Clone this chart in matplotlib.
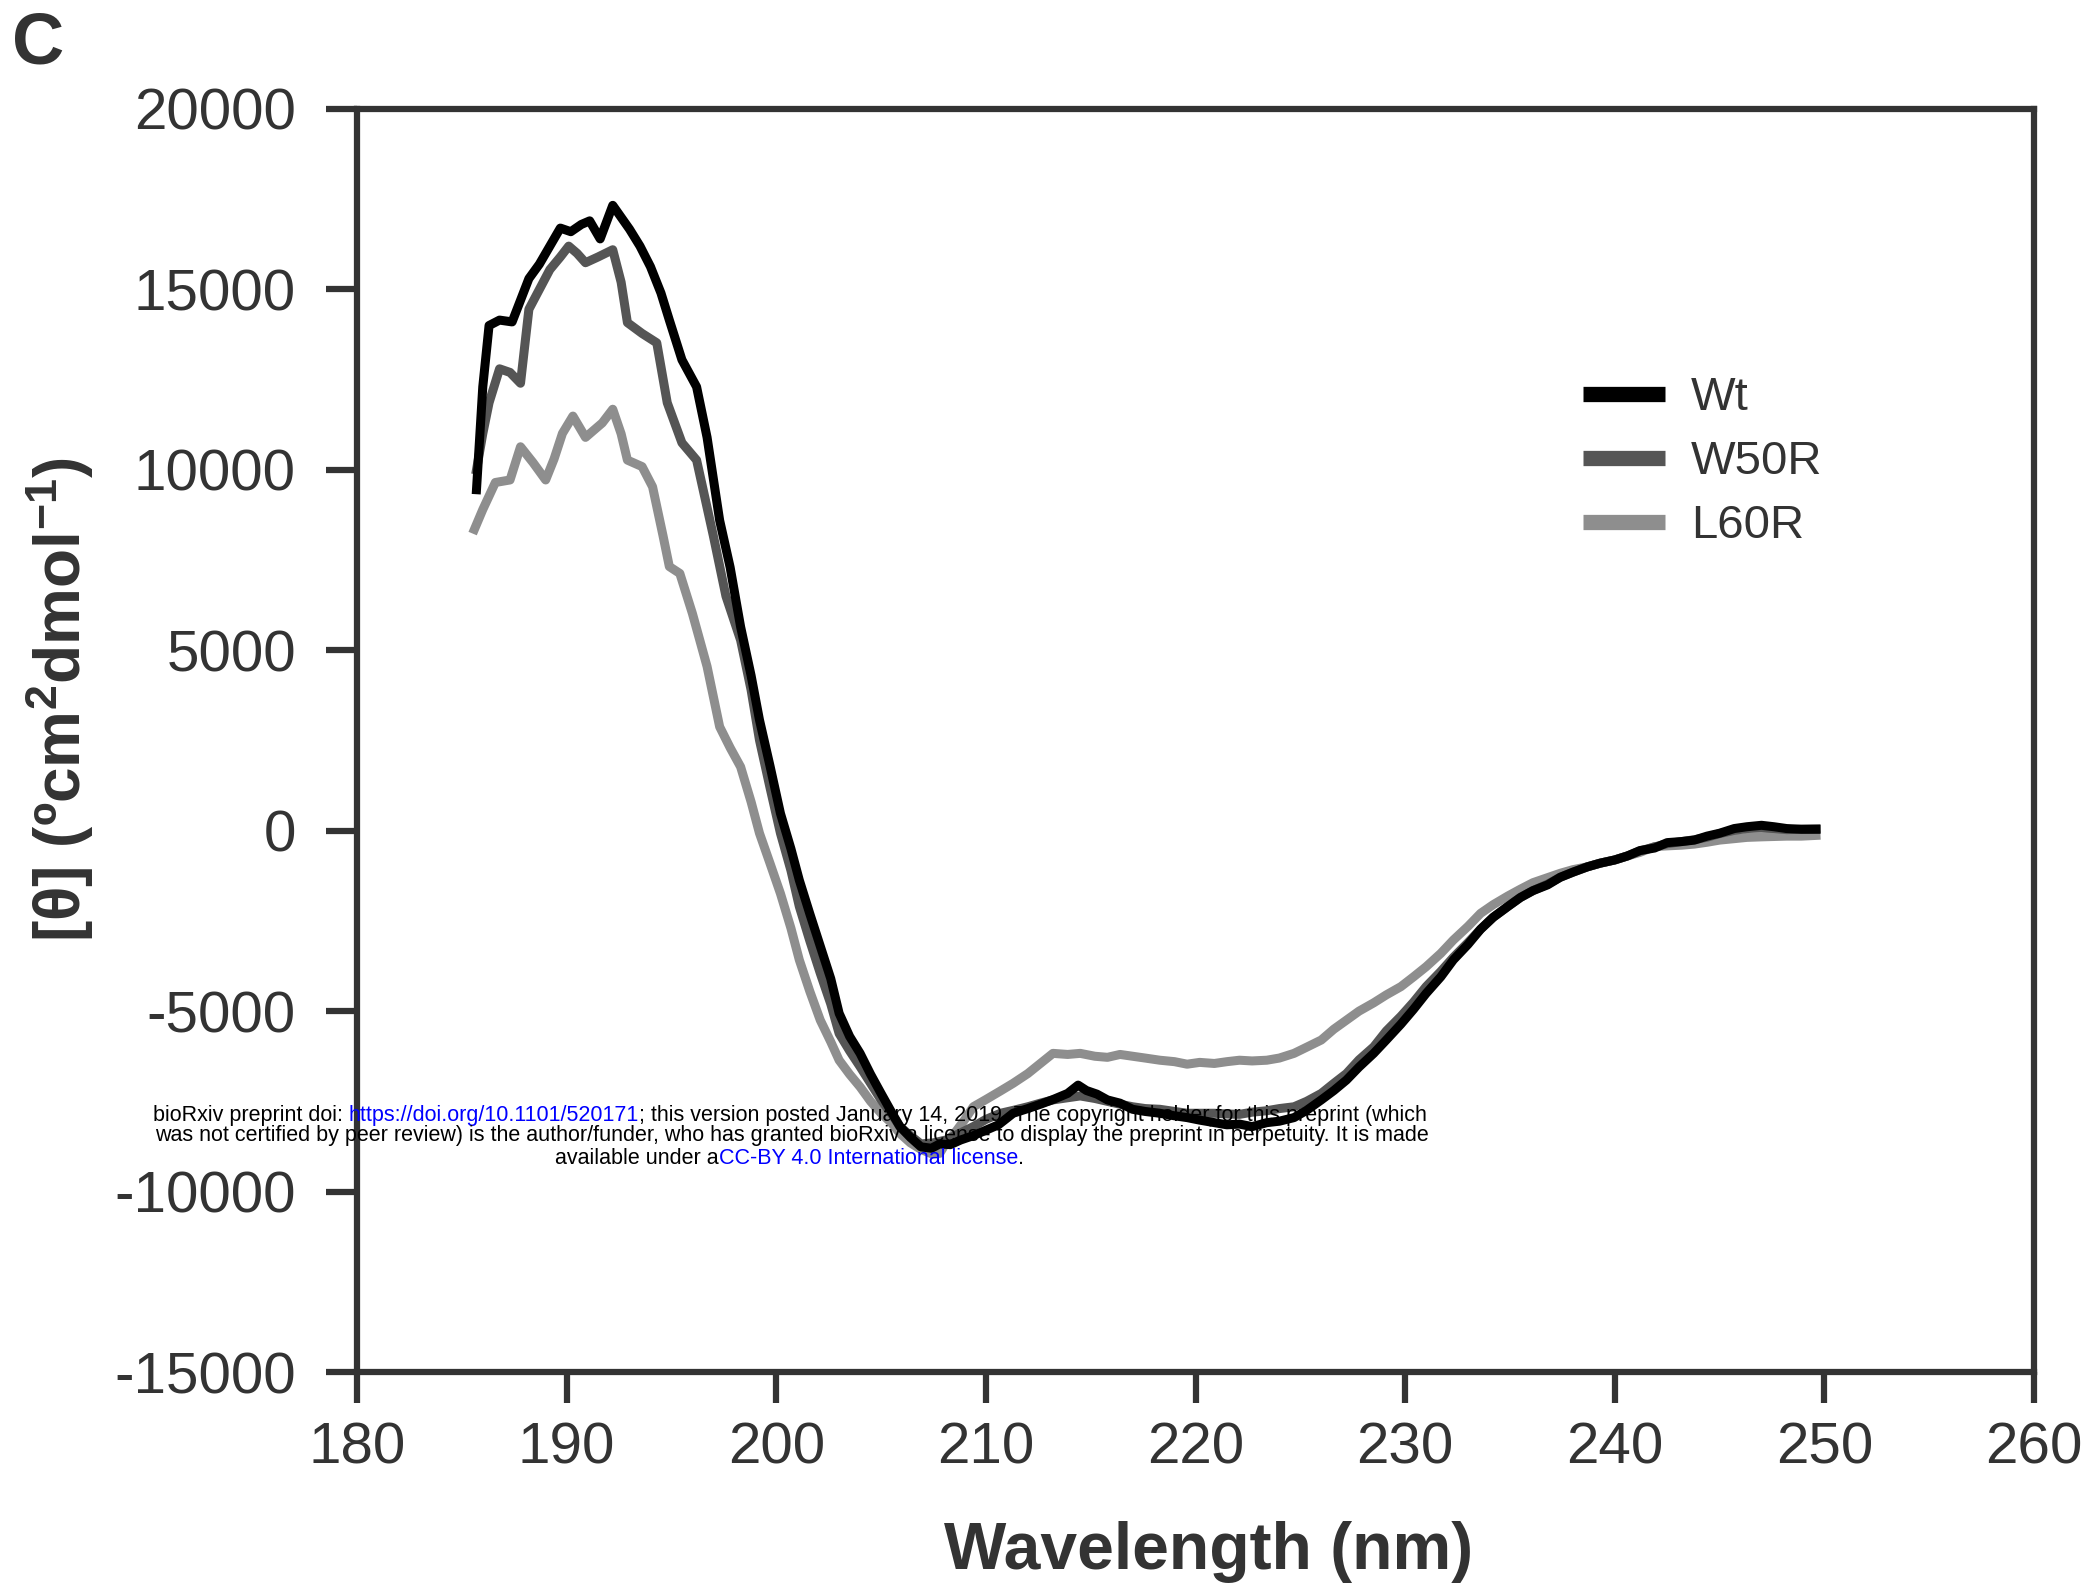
import matplotlib
matplotlib.use("Agg")
import matplotlib.pyplot as plt

plt.rcParams['font.family'] = ['Liberation Sans', 'DejaVu Sans']
plt.rcParams['mathtext.fontset'] = 'custom'
plt.rcParams['mathtext.rm'] = 'Liberation Sans:bold'
plt.rcParams['mathtext.bf'] = 'Liberation Sans:bold'
plt.rcParams['mathtext.it'] = 'Liberation Sans:bold'
plt.rcParams['mathtext.default'] = 'rm'

# ---------------- data ----------------
wt_nm = [185.7, 186.0, 186.3, 186.8, 187.4, 187.8, 188.2, 188.7, 189.2, 189.7, 190.2, 190.7, 191.1,
         191.6, 192.2, 192.6, 193.0, 193.5, 194.0, 194.5, 194.9, 195.5, 196.2, 196.7, 197.3, 197.8,
         198.3, 198.8, 199.2, 199.7, 200.2, 200.7, 201.1, 201.6, 202.1, 202.6, 203.0, 203.5, 204.0,
         204.5, 205.0, 205.5, 205.9, 206.4, 206.9, 207.4, 207.8, 208.3, 208.8, 209.4, 210.0, 210.6,
         211.3, 212.0, 212.6, 213.2, 213.9, 214.4, 214.8, 215.3, 215.8, 216.4, 217.0, 217.6, 218.3,
         219.0, 219.6, 220.2, 220.9, 221.5, 222.1, 222.7, 223.4, 224.0, 224.7, 225.3, 226.0, 226.6,
         227.2, 227.8, 228.5, 229.1, 229.8, 230.4, 231.0, 231.7, 232.3, 233.0, 233.6, 234.2, 234.9,
         235.5, 236.1, 236.8, 237.4, 238.0, 238.7, 239.3, 240.0, 240.6, 241.2, 241.9, 242.5, 243.2,
         243.8, 244.4, 245.0, 245.7, 246.3, 247.0, 247.6, 248.2, 248.9, 249.6]
wt_val = [9450, 12300, 14000, 14150, 14100, 14700, 15300, 15700, 16200, 16700, 16600, 16800, 16900,
          16400, 17330, 17000, 16670, 16200, 15630, 14900, 14150, 13050, 12300, 10900, 8600, 7300,
          5650, 4300, 3070, 1800, 480, -500, -1370, -2300, -3200, -4100, -5060, -5700, -6170,
          -6750, -7280, -7800, -8200, -8500, -8760, -8800, -8680, -8700, -8570, -8450, -8300, -8150,
          -7830, -7700, -7580, -7450, -7280, -7050, -7200, -7300, -7460, -7550, -7720, -7780, -7830,
          -7900, -7950, -8020, -8090, -8150, -8130, -8200, -8090, -8050, -7950, -7750, -7460, -7200,
          -6910, -6550, -6170, -5800, -5360, -4950, -4510, -4050, -3580, -3150, -2730, -2400, -2100,
          -1850, -1660, -1500, -1290, -1150, -1000, -900, -810, -700, -550, -480, -330, -300,
          -260, -150, -70, 60, 110, 150, 110, 60, 40, 40]

w50r_nm = [185.7, 186.0, 186.3, 186.8, 187.3, 187.8, 188.2, 188.7, 189.2, 189.7, 190.1, 190.5, 190.9,
           191.5, 192.2, 192.6, 192.9, 193.6, 194.3, 194.8, 195.5, 196.2, 197.0, 197.6, 198.3, 198.8,
           199.2, 199.7, 200.2, 200.7, 201.1, 201.6, 202.1, 202.6, 203.0, 203.5, 204.0, 204.5, 205.0,
           205.5, 205.9, 206.4, 206.9, 207.5, 208.1, 208.7, 209.4, 210.0, 210.7, 211.3, 212.0, 212.6,
           213.2, 213.9, 214.5, 215.2, 215.8, 216.4, 217.0, 217.6, 218.3, 219.0, 219.6, 220.2, 220.9,
           221.5, 222.1, 222.7, 223.4, 224.0, 224.7, 225.3, 226.0, 226.6, 227.2, 227.8, 228.5, 229.1,
           229.8, 230.4, 231.0, 231.7, 232.3, 233.0, 233.6, 234.2, 234.9, 235.5, 236.1, 236.8, 237.4,
           238.0, 238.7, 239.3, 240.0, 240.6, 241.2, 241.9, 242.5, 243.2, 243.8, 244.4, 245.0, 245.7,
           246.3, 247.0, 247.6, 248.2, 248.9, 249.6]
w50r_val = [10000, 11000, 11860, 12800, 12700, 12400, 14450, 15000, 15550, 15900, 16200, 16000, 15740,
            15900, 16100, 15200, 14080, 13780, 13520, 11860, 10750, 10270, 8170, 6500, 5280, 3900,
            2510, 1200, -70, -1100, -2100, -3050, -3950, -4800, -5620, -6100, -6540, -7000, -7460,
            -7850, -8200, -8450, -8680, -8650, -8570, -8400, -8200, -8000, -7830, -7750, -7650, -7550,
            -7460, -7400, -7350, -7420, -7500, -7580, -7650, -7700, -7720, -7780, -7830, -7830, -7830,
            -7850, -7860, -7800, -7760, -7700, -7650, -7500, -7280, -7000, -6730, -6350, -5990, -5550,
            -5140, -4750, -4320, -3900, -3510, -3100, -2730, -2400, -2100, -1850, -1660, -1480, -1290,
            -1150, -1000, -900, -810, -700, -560, -450, -360, -300, -250, -180, -80, 10,
            60, 80, 60, 30, 40, 50]

l60r_nm = [185.6, 186.0, 186.6, 187.3, 187.8, 188.4, 189.0, 189.4, 189.8, 190.3, 190.9, 191.3, 191.7,
           192.2, 192.6, 192.9, 193.6, 194.1, 194.6, 194.9, 195.4, 196.0, 196.7, 197.3, 197.8, 198.3,
           198.8, 199.2, 199.7, 200.2, 200.7, 201.1, 201.6, 202.1, 202.6, 203.0, 203.5, 204.0, 204.5,
           205.0, 205.5, 205.9, 206.4, 206.9, 207.4, 207.8, 208.1, 208.5, 209.0, 209.4, 210.0, 210.7,
           211.3, 212.0, 212.6, 213.2, 213.9, 214.5, 215.2, 215.8, 216.4, 217.0, 217.6, 218.3, 219.0,
           219.6, 220.2, 220.9, 221.5, 222.1, 222.7, 223.4, 224.0, 224.7, 225.3, 226.0, 226.6, 227.2,
           227.8, 228.5, 229.1, 229.8, 230.4, 231.0, 231.7, 232.3, 233.0, 233.6, 234.2, 234.9, 235.5,
           236.1, 236.8, 237.4, 238.0, 238.7, 239.3, 240.0, 240.6, 241.2, 241.9, 242.5, 243.2, 243.8,
           244.4, 245.0, 245.7, 246.3, 247.0, 247.6, 248.2, 248.9, 249.6]
l60r_val = [8350, 8900, 9650, 9720, 10640, 10200, 9720, 10300, 11010, 11490, 10900, 11100, 11300,
            11680, 11000, 10270, 10090, 9530, 8170, 7320, 7130, 6020, 4550, 2880, 2300, 1770,
            800, -70, -900, -1740, -2700, -3580, -4450, -5250, -5850, -6360, -6750, -7100, -7500,
            -7830, -8100, -8390, -8650, -8830, -8950, -8940, -8650, -8390, -8000, -7650, -7450, -7210,
            -7000, -6730, -6450, -6170, -6200, -6170, -6250, -6280, -6200, -6250, -6300, -6360, -6400,
            -6470, -6420, -6450, -6400, -6360, -6380, -6360, -6300, -6170, -6000, -5800, -5500, -5250,
            -5000, -4770, -4550, -4320, -4050, -3770, -3400, -3030, -2650, -2290, -2050, -1810, -1620,
            -1440, -1300, -1180, -1080, -1000, -900, -810, -700, -600, -440, -420, -400, -370,
            -320, -260, -220, -185, -170, -160, -150, -150, -130]

series_names = ["Wt", "W50R", "L60R"]
x_ticks = [180, 190, 200, 210, 220, 230, 240, 250, 260]
y_ticks = [-15000, -10000, -5000, 0, 5000, 10000, 15000, 20000]

# ---------------- figure ----------------
fig = plt.figure(figsize=(20.91, 15.91), dpi=100)
ax = fig.add_axes([357/2091, 1 - 1372/1591, (2034 - 357)/2091, (1372 - 109)/1591])

colors = ["#000000", "#555555", "#8e8e8e"]
lw = 6.5
ax.plot(l60r_nm, l60r_val, color=colors[2], lw=lw, solid_joinstyle='round', zorder=2)
ax.plot(w50r_nm, w50r_val, color=colors[1], lw=lw, solid_joinstyle='round', zorder=3)
ax.plot(wt_nm, wt_val, color=colors[0], lw=lw, solid_joinstyle='round', zorder=4)

ax.set_xlim(180, 260)
ax.set_ylim(-15000, 20000)
ax.set_xticks(x_ticks)
ax.set_yticks(y_ticks)
ax.set_xticklabels([str(t) for t in x_ticks])
ax.set_yticklabels([str(t) for t in y_ticks])

axis_color = "#333333"
for s in ax.spines.values():
    s.set_color(axis_color)
    s.set_linewidth(4.5)
ax.tick_params(axis='both', direction='out', length=22, width=4.5, color=axis_color,
               labelsize=42, labelcolor="#333333")
ax.tick_params(axis='x', pad=14)
ax.tick_params(axis='y', pad=22)

ax.set_xlabel("Wavelength (nm)", fontsize=47.5, fontweight='bold', color="#333333")
ax.xaxis.set_label_coords(0.5076, -0.118)
ax.xaxis.label.set_va('top')
fig.text(60/2091, 1 - 700/1591, r"[θ] (ºcm$^{2}$dmol$^{-1}$)", rotation=90, fontsize=46,
         fontweight='bold', color="#333333", ha='center', va='center')

fig.text(12/2091, 1 - 63/1591, "C", fontsize=52, fontweight='bold', color="#333333",
         ha='left', va='baseline')

# legend
from matplotlib.lines import Line2D
handles = [Line2D([0], [0], color=c, lw=11, solid_capstyle='butt') for c in colors]
leg = ax.legend(handles, series_names, loc='upper left', bbox_to_anchor=(1540/2091, 1 - 334/1591),
                bbox_transform=fig.transFigure, frameon=False, fontsize=34, handlelength=1.75,
                handletextpad=0.55, labelspacing=0.42, labelcolor="#333333")

# watermark
wm_font = dict(fontsize=15.5, family=['Liberation Sans'])
fig.canvas.draw()
renderer = fig.canvas.get_renderer()

def chain(parts, x0, y0):
    x = x0
    for txt, col in parts:
        t = fig.text(x, y0, txt, color=col, ha='left', va='center', zorder=10, transform=None, **wm_font)
        bb = t.get_window_extent(renderer=renderer)
        x = bb.x1

H = 1591
chain([("bioRxiv preprint doi: ", "black"), ("https://doi.org/10.1101/520171", "blue"),
       ("; this version posted January 14, 2019. The copyright holder for this preprint (which", "black")],
      153, H - 1115)
chain([("was not certified by peer review) is the author/funder, who has granted bioRxiv a license to display the preprint in perpetuity. It is made", "black")],
      155, H - 1136)
chain([("available under a", "black"), ("CC-BY 4.0 International license", "blue"), (".", "black")],
      555, H - 1158)

fig.savefig("out.png", dpi=100)
